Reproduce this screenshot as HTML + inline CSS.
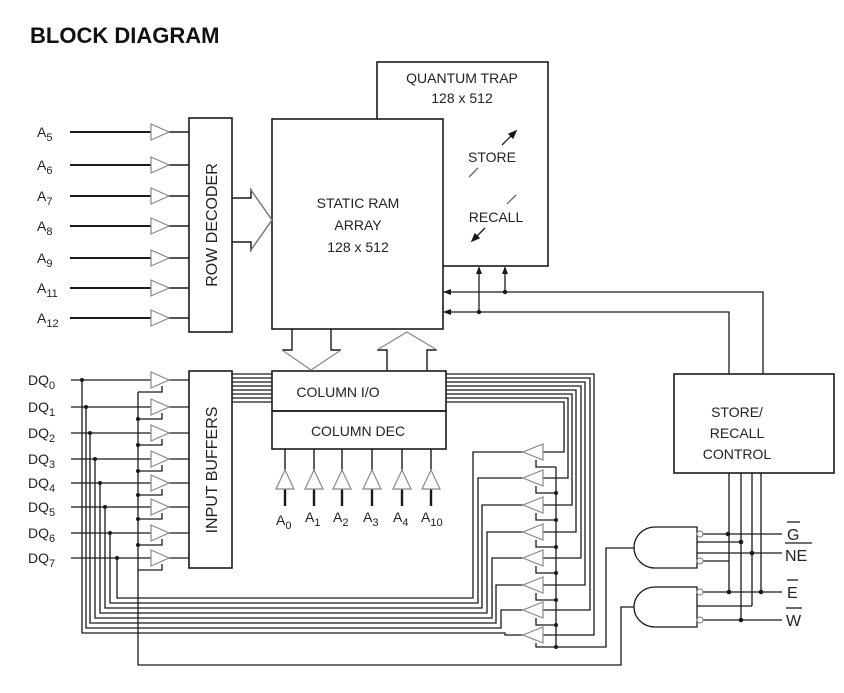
<!DOCTYPE html>
<html><head><meta charset="utf-8"><style>
html,body{margin:0;padding:0;background:#fff;}
svg{display:block;}
text{font-family:"Liberation Sans",Arial,sans-serif;fill:#222;}
</style></head><body>
<svg width="844" height="693" viewBox="0 0 844 693" xmlns="http://www.w3.org/2000/svg">
<text x="30" y="43" font-size="22" font-weight="bold" style="fill:#111">BLOCK DIAGRAM</text>
<g stroke="#1a1a1a" stroke-width="1.6" fill="none">
<rect x="377" y="62" width="171" height="204" fill="#fff"/>
<rect x="272" y="119" width="171" height="210" fill="#fff"/>
<rect x="189" y="118" width="43" height="214"/>
<rect x="189" y="371" width="43" height="197"/>
<rect x="272" y="371" width="174" height="40"/>
<rect x="272" y="411" width="174" height="38"/>
<rect x="674" y="374" width="160" height="99"/>
</g>
<g stroke="#1a1a1a" stroke-width="2">
<line x1="70" y1="132" x2="152" y2="132"/><line x1="70" y1="165" x2="152" y2="165"/>
<line x1="70" y1="196" x2="152" y2="196"/><line x1="70" y1="226" x2="152" y2="226"/>
<line x1="70" y1="258" x2="152" y2="258"/><line x1="70" y1="288" x2="152" y2="288"/>
<line x1="70" y1="318" x2="152" y2="318"/>
</g>
<g stroke="#1a1a1a" stroke-width="1.4">
<line x1="168" y1="132" x2="189" y2="132"/><line x1="168" y1="165" x2="189" y2="165"/>
<line x1="168" y1="196" x2="189" y2="196"/><line x1="168" y1="226" x2="189" y2="226"/>
<line x1="168" y1="258" x2="189" y2="258"/><line x1="168" y1="288" x2="189" y2="288"/>
<line x1="168" y1="318" x2="189" y2="318"/>
</g>
<g stroke="#888" stroke-width="1.2" fill="#fff">
<polygon points="151,124 151,140 169,132"/><polygon points="151,157 151,173 169,165"/>
<polygon points="151,188 151,204 169,196"/><polygon points="151,218 151,234 169,226"/>
<polygon points="151,250 151,266 169,258"/><polygon points="151,280 151,296 169,288"/>
<polygon points="151,310 151,326 169,318"/>
</g>
<g font-size="14">
<text x="37" y="137">A<tspan font-size="11" dy="4">5</tspan></text>
<text x="37" y="170">A<tspan font-size="11" dy="4">6</tspan></text>
<text x="37" y="201">A<tspan font-size="11" dy="4">7</tspan></text>
<text x="37" y="231">A<tspan font-size="11" dy="4">8</tspan></text>
<text x="37" y="263">A<tspan font-size="11" dy="4">9</tspan></text>
<text x="37" y="293">A<tspan font-size="11" dy="4">11</tspan></text>
<text x="37" y="323">A<tspan font-size="11" dy="4">12</tspan></text>
</g>
<text transform="translate(217,225) rotate(-90)" text-anchor="middle" font-size="16">ROW DECODER</text>
<text transform="translate(217,470) rotate(-90)" text-anchor="middle" font-size="16">INPUT BUFFERS</text>
<path d="M232,198 H251 V190 L272,220 L251,250 V242 H232" stroke="#1a1a1a" stroke-width="1.4" fill="none"/>
<path d="M251,190 L272,220 L251,250" stroke="#888" stroke-width="1.2" fill="none"/>
<g font-size="14" text-anchor="middle">
<text x="358" y="208">STATIC RAM</text><text x="358" y="230">ARRAY</text><text x="358" y="252">128 x 512</text>
<text x="462" y="83">QUANTUM TRAP</text><text x="462" y="103">128 x 512</text>
<text x="492" y="162">STORE</text><text x="496" y="222">RECALL</text>
<text x="338" y="397">COLUMN I/O</text><text x="358" y="436">COLUMN DEC</text>
<text x="737" y="417">STORE/</text><text x="737" y="438">RECALL</text><text x="737" y="459">CONTROL</text>
</g>
<g stroke="#1a1a1a" stroke-width="1.3" fill="#1a1a1a">
<line x1="502" y1="145" x2="514" y2="133"/><polygon points="516,131 509,134 513,138"/>
<line x1="469" y1="177" x2="478" y2="168" stroke="#666"/>
<line x1="516" y1="195" x2="507" y2="204" stroke="#666"/>
<line x1="485" y1="228" x2="474" y2="239"/><polygon points="472,241 479,238 475,234"/>
</g>
<g stroke="#1a1a1a" stroke-width="1.4" fill="none">
<path d="M292,329 V350 H282"/><path d="M331,329 V350 H341"/>
<path d="M387,371 V350 H377"/><path d="M427,371 V350 H437"/>
</g>
<g stroke="#888" stroke-width="1.2" fill="none">
<path d="M282,350 L311,370 L341,350"/><path d="M377,350 L407,332 L437,350"/>
</g>
<g stroke="#1a1a1a" stroke-width="1.4">
<line x1="285" y1="449" x2="285" y2="470"/><line x1="314" y1="449" x2="314" y2="470"/>
<line x1="342" y1="449" x2="342" y2="470"/><line x1="372" y1="449" x2="372" y2="470"/>
<line x1="402" y1="449" x2="402" y2="470"/><line x1="431" y1="449" x2="431" y2="470"/>
</g>
<g stroke="#1a1a1a" stroke-width="2.4">
<line x1="285" y1="488" x2="285" y2="506"/><line x1="314" y1="488" x2="314" y2="506"/>
<line x1="342" y1="488" x2="342" y2="506"/><line x1="372" y1="488" x2="372" y2="506"/>
<line x1="402" y1="488" x2="402" y2="506"/><line x1="431" y1="488" x2="431" y2="506"/>
</g>
<g stroke="#888" stroke-width="1.2" fill="#fff">
<polygon points="276,489 294,489 285,470"/><polygon points="305,489 323,489 314,470"/>
<polygon points="333,489 351,489 342,470"/><polygon points="363,489 381,489 372,470"/>
<polygon points="393,489 411,489 402,470"/><polygon points="422,489 440,489 431,470"/>
</g>
<g font-size="14">
<text x="276" y="525">A<tspan font-size="11" dy="4">0</tspan></text>
<text x="305" y="522">A<tspan font-size="11" dy="4">1</tspan></text>
<text x="333" y="522">A<tspan font-size="11" dy="4">2</tspan></text>
<text x="363" y="522">A<tspan font-size="11" dy="4">3</tspan></text>
<text x="393" y="522">A<tspan font-size="11" dy="4">4</tspan></text>
<text x="421" y="522">A<tspan font-size="11" dy="4">10</tspan></text>
</g>
<g font-size="14">
<text x="28" y="385">DQ<tspan font-size="11" dy="4">0</tspan></text>
<text x="28" y="412">DQ<tspan font-size="11" dy="4">1</tspan></text>
<text x="28" y="438">DQ<tspan font-size="11" dy="4">2</tspan></text>
<text x="28" y="464">DQ<tspan font-size="11" dy="4">3</tspan></text>
<text x="28" y="488">DQ<tspan font-size="11" dy="4">4</tspan></text>
<text x="28" y="512">DQ<tspan font-size="11" dy="4">5</tspan></text>
<text x="28" y="538">DQ<tspan font-size="11" dy="4">6</tspan></text>
<text x="28" y="563">DQ<tspan font-size="11" dy="4">7</tspan></text>
</g>
<g stroke="#1a1a1a" stroke-width="1.3" fill="none">
<path d="M71,380 H152 M168,380 H189"/><path d="M71,407 H152 M168,407 H189"/>
<path d="M71,433 H152 M168,433 H189"/><path d="M71,459 H152 M168,459 H189"/>
<path d="M71,483 H152 M168,483 H189"/><path d="M71,507 H152 M168,507 H189"/>
<path d="M71,533 H152 M168,533 H189"/><path d="M71,558 H152 M168,558 H189"/>
<!-- DQ bus: DQ7 -> row0 ... DQ0 -> row7 -->
<path d="M117,558 V598 H473 V452 H523"/>
<path d="M110,533 V603 H478 V478 H523"/>
<path d="M105,507 V608 H482 V505 H523"/>
<path d="M100,483 V613 H487 V532 H523"/>
<path d="M95,459 V618 H492 V558 H523"/>
<path d="M90,433 V623 H496 V585 H523"/>
<path d="M86,407 V628 H501 V610 H523"/>
<path d="M82,380 V633 H505 V635 H523"/>
<path d="M138,392 V665 H621 V607 H634"/>
<path d="M138,392 H162 V386 M138,419 H162 V413 M138,445 H162 V439 M138,471 H162 V465 M138,495 H162 V489 M138,519 H162 V513 M138,545 H162 V539 M138,570 H162 V564"/>
<path d="M232,374 H272 M232,378 H272 M232,382 H272 M232,386 H272 M232,390 H272 M232,394 H272 M232,398 H272 M232,402 H272"/>
<path d="M446,374 H594 V635 H543"/><path d="M446,378 H590 V610 H543"/>
<path d="M446,382 H585 V585 H543"/><path d="M446,386 H581 V558 H543"/>
<path d="M446,390 H576 V532 H543"/><path d="M446,394 H572 V505 H543"/>
<path d="M446,398 H568 V478 H543"/><path d="M446,402 H564 V452 H543"/>
<path d="M556,467 V647 H606 V548 H634"/>
<path d="M536,460 V467 H556 M536,486 V493 H556 M536,513 V520 H556 M536,540 V547 H556 M536,566 V573 H556 M536,593 V600 H556 M536,618 V625 H556 M536,643 V647 H556"/>
<path d="M443,292 H763 V374"/><path d="M443,312 H729 V374"/>
<path d="M479,312 V270"/><path d="M505,292 V270"/>
<path d="M729,473 V592 M741,473 V622 M752,473 V606 M761,473 V592"/>
<path d="M703,534 H782 M697,542 H741 M697,553 H782 M703,561 H729 M703,592 H782 M697,606 H752 M703,620 H782"/>
<path d="M697,527 H655 A21,20.5 0 0 0 655,568 H697 Z"/>
<path d="M697,587 H655 A21,20 0 0 0 655,627 H697 Z"/>
</g>
<g stroke="#888" stroke-width="1.2" fill="#fff">
<polygon points="151,372 151,388 169,380"/><polygon points="151,399 151,415 169,407"/>
<polygon points="151,425 151,441 169,433"/><polygon points="151,451 151,467 169,459"/>
<polygon points="151,475 151,491 169,483"/><polygon points="151,499 151,515 169,507"/>
<polygon points="151,525 151,541 169,533"/><polygon points="151,550 151,566 169,558"/>
<polygon points="543,444 543,460 523,452"/><polygon points="543,470 543,486 523,478"/>
<polygon points="543,497 543,513 523,505"/><polygon points="543,524 543,540 523,532"/>
<polygon points="543,550 543,566 523,558"/><polygon points="543,577 543,593 523,585"/>
<polygon points="543,602 543,618 523,610"/><polygon points="543,627 543,643 523,635"/>
<circle cx="700" cy="534" r="3"/><circle cx="700" cy="561" r="3"/>
<circle cx="700" cy="592" r="3"/><circle cx="700" cy="620" r="3"/>
</g>
<g fill="#1a1a1a">
<polygon points="443,292 451,289 451,295"/><polygon points="443,312 451,309 451,315"/>
<polygon points="479,266 476,274 482,274"/><polygon points="505,266 502,274 508,274"/>
<circle cx="479" cy="312" r="2.2"/><circle cx="505" cy="292" r="2.2"/>
<circle cx="82" cy="380" r="2"/><circle cx="86" cy="407" r="2"/><circle cx="90" cy="433" r="2"/>
<circle cx="95" cy="459" r="2"/><circle cx="100" cy="483" r="2"/><circle cx="105" cy="507" r="2"/>
<circle cx="110" cy="533" r="2"/><circle cx="117" cy="558" r="2"/>
<circle cx="138" cy="419" r="2"/><circle cx="138" cy="445" r="2"/><circle cx="138" cy="471" r="2"/>
<circle cx="138" cy="495" r="2"/><circle cx="138" cy="519" r="2"/><circle cx="138" cy="545" r="2"/>
<circle cx="556" cy="493" r="2"/><circle cx="556" cy="520" r="2"/><circle cx="556" cy="547" r="2"/>
<circle cx="556" cy="573" r="2"/><circle cx="556" cy="600" r="2"/><circle cx="556" cy="625" r="2"/>
<circle cx="556" cy="647" r="2"/>
<circle cx="728" cy="534" r="2.3"/><circle cx="741" cy="542" r="2.3"/><circle cx="752" cy="553" r="2.3"/>
<circle cx="729" cy="592" r="2.3"/><circle cx="761" cy="592" r="2.3"/><circle cx="741" cy="620" r="2.3"/>
</g>
<g font-size="16">
<text x="787" y="540">G</text><text x="785" y="561">NE</text>
<text x="787" y="598">E</text><text x="786" y="626">W</text>
</g>
<g stroke="#1a1a1a" stroke-width="1.3">
<line x1="787" y1="522" x2="800" y2="522"/><line x1="785" y1="543" x2="812" y2="543"/>
<line x1="787" y1="580" x2="798" y2="580"/><line x1="786" y1="608" x2="802" y2="608"/>
</g>
</svg>
</body></html>
